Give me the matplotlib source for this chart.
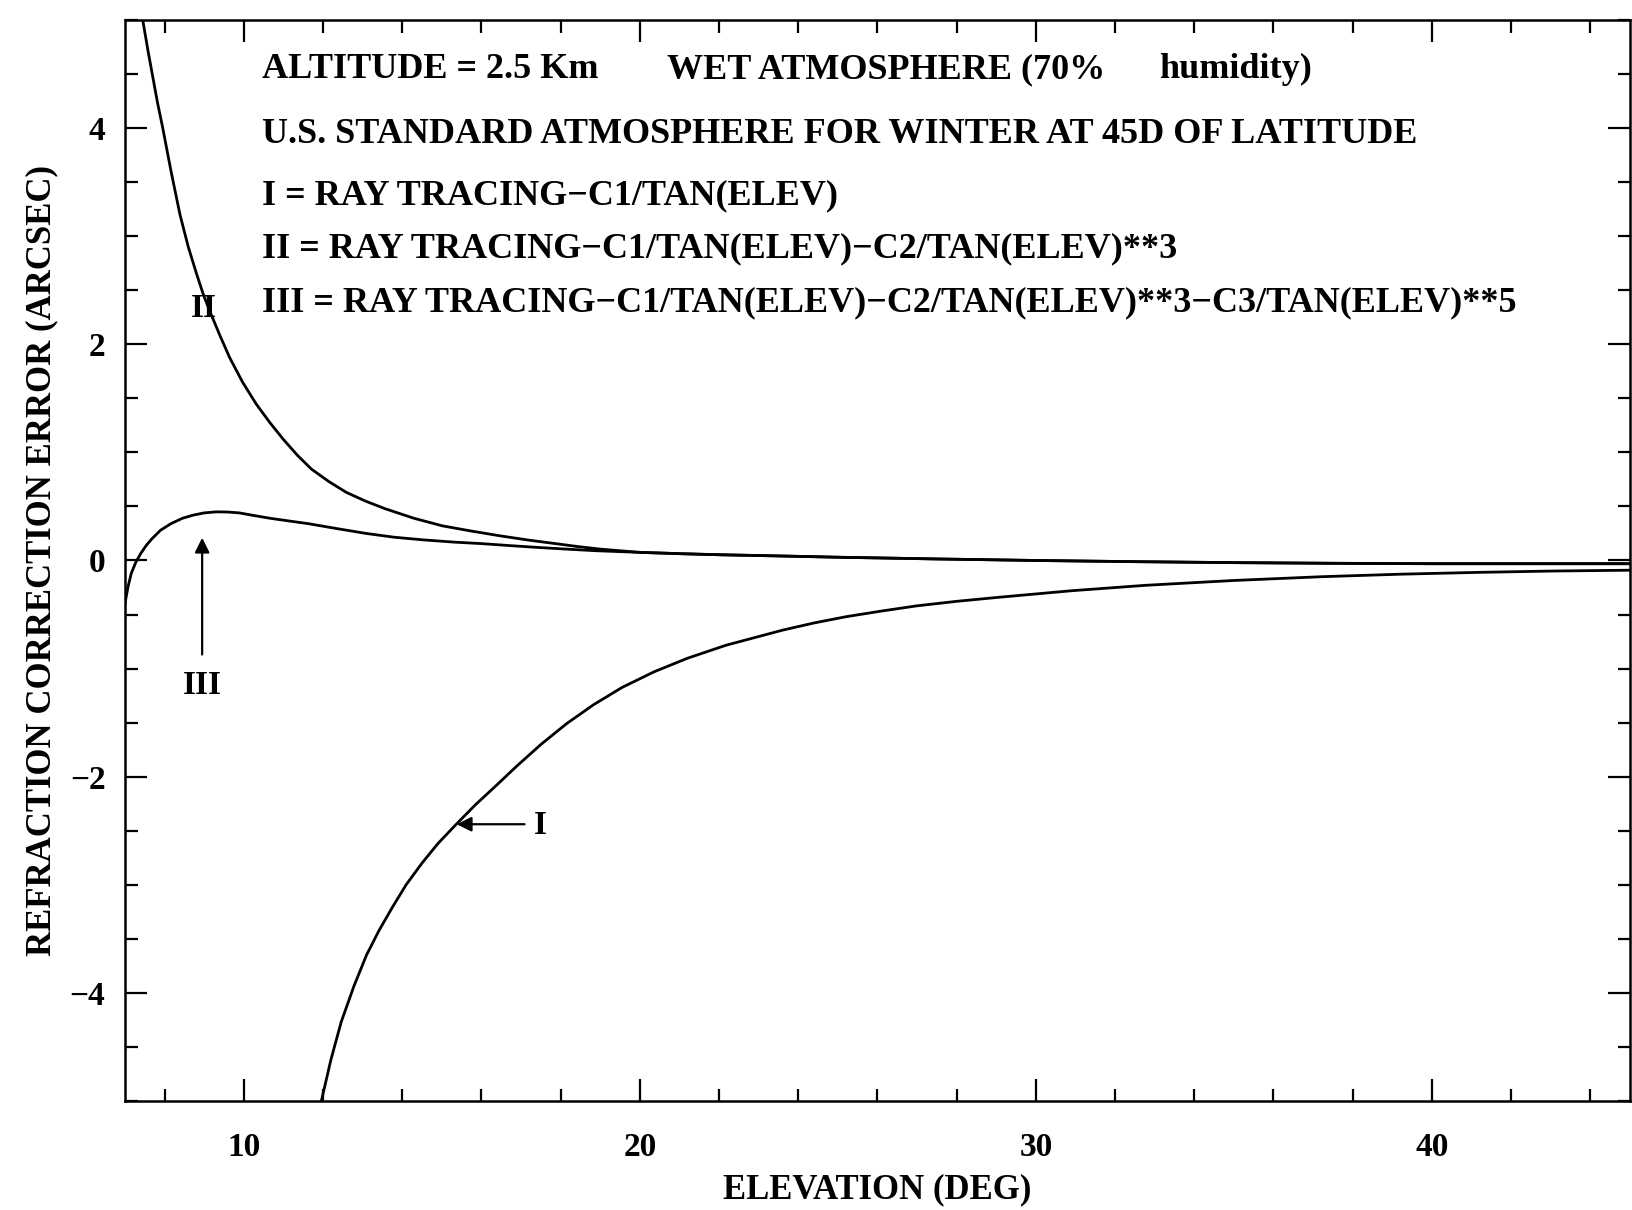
import matplotlib.pyplot as plt
from matplotlib.ticker import MultipleLocator

# values: elevation (deg) vs refraction correction error (arcsec)
elev_I = [11.96, 12.2, 12.46, 12.78, 13.10, 13.42, 13.75, 14.1, 14.50, 14.9, 15.34,
          15.85, 16.38, 16.9, 17.51, 18.15, 18.83, 19.55, 20.36, 21.2, 22.17, 23.6,
          24.4, 25.21, 26.1, 26.99, 28.0, 29.08, 30.9, 32.76, 35.0, 37.23, 39.2,
          41.18, 43.0, 45.0]
err_I = [-5.0, -4.62, -4.27, -3.94, -3.65, -3.42, -3.21, -3.0, -2.80, -2.62, -2.45,
         -2.26, -2.08, -1.90, -1.70, -1.51, -1.335, -1.175, -1.03, -0.905, -0.785, -0.645,
         -0.578, -0.52, -0.468, -0.42, -0.378, -0.34, -0.28, -0.23, -0.185, -0.15, -0.127,
         -0.11, -0.098, -0.09]

elev_II = [7.45, 7.58, 7.70, 7.82, 7.95, 8.17, 8.39, 8.6, 8.81, 8.98, 9.15, 9.4,
           9.64, 9.97, 10.31, 10.65, 11.0, 11.35, 11.71, 12.15, 12.59, 13.07, 13.56,
           14.3, 15.02, 15.75, 16.47, 17.2, 17.93, 18.45, 19.0, 20.0, 21.0, 22.0,
           23.5, 25.0, 27.5, 30.0, 32.5, 35.0, 37.5, 40.0, 45.0]
err_II = [5.0, 4.72, 4.48, 4.24, 4.01, 3.59, 3.20, 2.90, 2.65, 2.46, 2.30, 2.08,
          1.88, 1.65, 1.45, 1.28, 1.12, 0.975, 0.845, 0.73, 0.63, 0.55, 0.48,
          0.39, 0.32, 0.272, 0.228, 0.188, 0.153, 0.128, 0.105, 0.075, 0.063, 0.053,
          0.042, 0.03, 0.014, 0.0, -0.011, -0.02, -0.026, -0.03, -0.03]

elev_III = [7.0, 7.08, 7.16, 7.27, 7.40, 7.54, 7.68, 7.9, 8.16, 8.45, 8.73, 9.0,
            9.31, 9.6, 9.89, 10.27, 10.67, 11.15, 11.64, 12.35, 13.09, 13.8, 14.55,
            15.3, 16.0, 16.7, 17.45, 18.2, 18.9, 20.0, 21.0, 22.0, 23.5, 25.0, 27.5,
            30.0, 32.5, 35.0, 37.5, 40.0, 45.0]
err_III = [-0.40, -0.24, -0.12, -0.02, 0.065, 0.14, 0.20, 0.28, 0.34, 0.39, 0.42, 0.44,
           0.45, 0.448, 0.44, 0.415, 0.39, 0.365, 0.34, 0.295, 0.25, 0.215, 0.19,
           0.17, 0.156, 0.138, 0.12, 0.104, 0.09, 0.075, 0.063, 0.053, 0.042, 0.03, 0.014,
           0.0, -0.011, -0.02, -0.026, -0.03, -0.03]

header_lines = [
    "U.S. STANDARD ATMOSPHERE FOR WINTER AT 45D OF LATITUDE",
    "I = RAY TRACING\u2212C1/TAN(ELEV)",
    "II = RAY TRACING\u2212C1/TAN(ELEV)\u2212C2/TAN(ELEV)**3",
    "III = RAY TRACING\u2212C1/TAN(ELEV)\u2212C2/TAN(ELEV)**3\u2212C3/TAN(ELEV)**5",
]
header_y = [3.94, 3.37, 2.88, 2.38]

plt.rcParams['font.family'] = ['Liberation Serif', 'DejaVu Serif']
plt.rcParams['font.weight'] = 'bold'
plt.rcParams['axes.labelweight'] = 'bold'

fig = plt.figure(figsize=(16.33, 12.10), dpi=100)
ax = fig.add_axes([0.0765, 0.0901, 0.9216, 0.8934])

ax.plot(elev_I, err_I, color='black', lw=2.0)
ax.plot(elev_II, err_II, color='black', lw=2.0)
ax.plot(elev_III, err_III, color='black', lw=2.0)

ax.set_xlim(7, 45)
ax.set_ylim(-5, 5)
ax.xaxis.set_major_locator(MultipleLocator(10))
ax.xaxis.set_minor_locator(MultipleLocator(2))
ax.yaxis.set_major_locator(MultipleLocator(2))
ax.yaxis.set_minor_locator(MultipleLocator(0.5))
ax.tick_params(which='both', direction='in', top=True, right=True, width=1.6,
               labelsize=24, colors='black')
ax.tick_params(which='major', length=16)
ax.tick_params(which='minor', length=9)
ax.tick_params(axis='x', which='major', pad=22)
ax.tick_params(axis='y', which='major', pad=14)
for s in ax.spines.values():
    s.set_linewidth(1.8)

ax.set_xlabel('ELEVATION (DEG)', fontsize=25, labelpad=8)
ax.set_ylabel('REFRACTION CORRECTION ERROR (ARCSEC)', fontsize=25, labelpad=8)

txt = dict(fontsize=26, va='center', ha='left')
ax.text(10.46, 4.54, 'ALTITUDE = 2.5 Km', **txt)
ax.text(20.68, 4.54, 'WET ATMOSPHERE (70%', **txt)
ax.text(33.1, 4.54, 'humidity)', **txt)
for line, y in zip(header_lines, header_y):
    ax.text(10.46, y, line, **txt)

arrow = dict(arrowstyle='-|>', color='black', lw=1.6, mutation_scale=22,
             shrinkA=0, shrinkB=0)
ax.annotate('', xy=(8.95, 0.21), xytext=(8.95, -0.87), arrowprops=arrow)
ax.text(8.95, -1.16, 'III', fontsize=24, ha='center', va='center')
ax.annotate('', xy=(15.38, -2.44), xytext=(17.09, -2.44), arrowprops=arrow)
ax.text(17.49, -2.45, 'I', fontsize=24, ha='center', va='center')
ax.text(9.0, 2.33, 'II', fontsize=24, ha='center', va='center')

fig.savefig('out.png', dpi=100)
